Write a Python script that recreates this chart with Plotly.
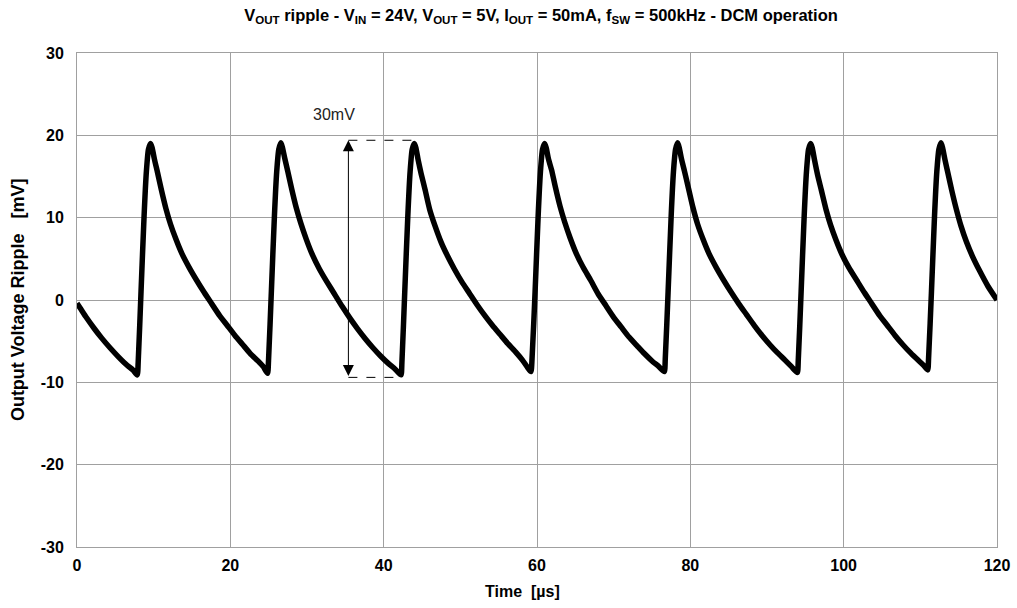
import plotly.graph_objects as go

# ── Scope trace, read off the capture (time in µs, ripple in mV) ─────────────
# one line per edge: falling ramp, then the fast rise to the next peak
TIME_US = [
    0.0, 0.5, 1.2, 2.2, 3.2, 4.3, 5.4, 6.5, 7.3, 7.85,
    7.98, 8.35, 8.75, 9.05, 9.32, 9.6,
    9.8, 10.1, 10.5, 11.0, 11.6, 12.2, 12.9, 13.7, 14.6, 15.6, 16.6, 17.6, 18.6, 19.6, 20.6, 21.6, 22.6, 23.6, 24.3, 24.85,
    24.98, 25.35, 25.75, 26.05, 26.32, 26.6,
    26.8, 27.1, 27.5, 28.0, 28.6, 29.2, 29.9, 30.7, 31.6, 32.6, 33.6, 34.6, 35.6, 36.6, 37.6, 38.6, 39.6, 40.6, 41.5, 42.25,
    42.38, 42.75, 43.15, 43.45, 43.72, 44.0,
    44.2, 44.5, 44.9, 45.4, 46.0, 46.7, 47.5, 48.3, 49.2, 50.2, 51.2, 52.2, 53.2, 54.2, 55.2, 56.2, 57.2, 58.1, 58.7, 59.2,
    59.35, 59.75, 60.15, 60.45, 60.72, 61.0,
    61.2, 61.5, 61.9, 62.4, 63.0, 63.6, 64.3, 65.1, 66.0, 67.0, 68.0, 69.0, 70.0, 71.0, 72.0, 73.0, 74.0, 75.0, 75.9, 76.6,
    76.73, 77.1, 77.5, 77.8, 78.07, 78.35,
    78.55, 78.85, 79.25, 79.75, 80.35, 80.95, 81.65, 82.45, 83.35, 84.35, 85.35, 86.35, 87.35, 88.35, 89.35, 90.35, 91.35, 92.35, 93.2, 93.95,
    94.08, 94.45, 94.85, 95.15, 95.42, 95.7,
    95.9, 96.2, 96.6, 97.1, 97.7, 98.3, 99.0, 99.8, 100.7, 101.7, 102.7, 103.7, 104.7, 105.7, 106.7, 107.7, 108.7, 109.7, 110.4, 110.95,
    111.08, 111.45, 111.85, 112.15, 112.42, 112.7,
    112.9, 113.2, 113.6, 114.1, 114.7, 115.3, 116.0, 116.8, 117.7, 118.8, 120.0,
]
RIPPLE_MV = [
    -0.4, -1.1, -2.1, -3.4, -4.6, -5.8, -6.9, -7.9, -8.5, -9.1,
    -7.6, 1.0, 10.2, 15.6, 18.3, 19.0,
    18.5, 17.1, 15.5, 13.4, 11.1, 9.2, 7.4, 5.6, 4.0, 2.4, 0.9, -0.5, -1.9, -3.1, -4.3, -5.4, -6.5, -7.4, -8.1, -8.9,
    -7.4, 1.0, 10.2, 15.6, 18.3, 19.1,
    18.5, 17.2, 15.6, 13.5, 11.2, 9.3, 7.4, 5.5, 3.8, 2.2, 0.7, -0.8, -2.2, -3.5, -4.7, -5.8, -6.8, -7.7, -8.4, -9.1,
    -7.6, 1.0, 10.2, 15.6, 18.3, 19.0,
    18.5, 17.0, 15.3, 13.4, 11.0, 9.0, 7.0, 5.4, 3.8, 2.2, 0.8, -0.6, -1.9, -3.1, -4.2, -5.3, -6.3, -7.3, -8.1, -8.7,
    -7.2, 1.0, 10.2, 15.6, 18.3, 19.0,
    18.5, 17.1, 15.8, 13.7, 11.4, 9.5, 7.6, 5.7, 4.0, 2.4, 0.7, -0.7, -2.1, -3.3, -4.5, -5.5, -6.5, -7.4, -8.1, -8.7,
    -7.2, 1.0, 10.2, 15.6, 18.3, 19.1,
    18.5, 17.1, 15.6, 13.6, 11.2, 9.2, 7.4, 5.6, 4.0, 2.4, 0.9, -0.5, -1.8, -3.1, -4.3, -5.4, -6.4, -7.3, -8.1, -8.8,
    -7.3, 1.0, 10.2, 15.6, 18.3, 19.0,
    18.5, 17.0, 15.2, 13.3, 11.0, 9.1, 7.3, 5.5, 3.9, 2.4, 0.9, -0.5, -1.9, -3.1, -4.3, -5.4, -6.4, -7.3, -7.9, -8.5,
    -7.0, 1.0, 10.2, 15.6, 18.3, 19.1,
    18.5, 17.1, 15.4, 13.3, 11.0, 9.0, 7.1, 5.3, 3.6, 1.7, 0.0,
]

X_TICKS = [0, 20, 40, 60, 80, 100, 120]
Y_TICKS = [-30, -20, -10, 0, 10, 20, 30]

# peak-to-peak marker (30mV)
PP_TIME = 35.4
PP_TOP, PP_BOTTOM = 19.4, -9.4
PP_TOP_END, PP_BOTTOM_END = 44.0, 42.25

FONT = "Liberation Sans, Arial, sans-serif"
GRID = "#a0a0a0"

fig = go.Figure()
fig.add_trace(go.Scatter(
    x=TIME_US, y=RIPPLE_MV,
    mode="lines",
    line=dict(color="black", width=5.5, shape="spline", smoothing=0.6),
    hoverinfo="skip",
    showlegend=False,
))

# dashed guides from the arrow to the peak / valley
for y_lvl, x_end in [(PP_TOP, PP_TOP_END), (PP_BOTTOM, PP_BOTTOM_END)]:
    fig.add_shape(type="line", x0=PP_TIME, x1=x_end, y0=y_lvl, y1=y_lvl,
                  xref="x", yref="y", line=dict(color="black", width=1, dash="dash"))

fig.add_annotation(
    x=PP_TIME, y=PP_TOP, ax=PP_TIME, ay=PP_BOTTOM,
    xref="x", yref="y", axref="x", ayref="y",
    text="", showarrow=True,
    arrowhead=2, startarrowhead=2, arrowside="end+start",
    arrowwidth=1, arrowsize=2.2, startarrowsize=2.2, arrowcolor="black",
)
fig.add_annotation(
    x=33.5, y=22.5, xref="x", yref="y", text="30mV", showarrow=False,
    font=dict(family=FONT, size=16, color="#222222"),
)

# axis titles placed by hand
fig.add_annotation(
    x=-0.064, y=0.5, xref="paper", yref="paper", showarrow=False,
    text="<b>Output Voltage Ripple&nbsp;&nbsp;&nbsp;[mV]</b>", textangle=-90,
    xanchor="center", yanchor="middle", font=dict(family=FONT, size=18),
)
fig.add_annotation(
    x=0.484, y=-0.091, xref="paper", yref="paper", showarrow=False,
    text="<b>Time&nbsp;&nbsp;[µs]</b>",
    xanchor="center", yanchor="middle", font=dict(family=FONT, size=16),
)

title = ("<b>V<sub>OUT</sub> ripple - V<sub>IN</sub> = 24V, V<sub>OUT</sub> = 5V, "
         "I<sub>OUT</sub> = 50mA, f<sub>SW</sub> = 500kHz - DCM operation</b>")

fig.update_layout(
    width=1017, height=608,
    margin=dict(l=77, r=20, t=53, b=61, autoexpand=False),
    paper_bgcolor="white",
    plot_bgcolor="white",
    font=dict(family=FONT, color="black", size=14),
    title=dict(text=title, x=541 / 1017, xanchor="center", y=0.985, yanchor="top",
               font=dict(family=FONT, size=16.5, color="black")),
    xaxis=dict(
        range=[0, 120], tickvals=X_TICKS, ticktext=[f"<b>{v}</b>" for v in X_TICKS],
        showgrid=True, gridcolor=GRID, gridwidth=1,
        showline=True, linecolor=GRID, linewidth=1, mirror=True,
        zeroline=False, ticks="", tickfont=dict(size=16),
        ticklabelstandoff=4, ticklabeloverflow="allow", automargin=False,
    ),
    yaxis=dict(
        range=[-30, 30], tickvals=Y_TICKS, ticktext=[f"<b>{v}</b>" for v in Y_TICKS],
        showgrid=True, gridcolor=GRID, gridwidth=1,
        showline=True, linecolor=GRID, linewidth=1, mirror=True,
        zeroline=False, ticks="", tickfont=dict(size=16),
        ticklabelstandoff=9, automargin=False,
    ),
)

# page body margin off so the 1017x608 figure fills the window
fig.write_html(
    "out.html",
    config={"displayModeBar": False},
    post_script="document.body.style.margin = '0';",
)
